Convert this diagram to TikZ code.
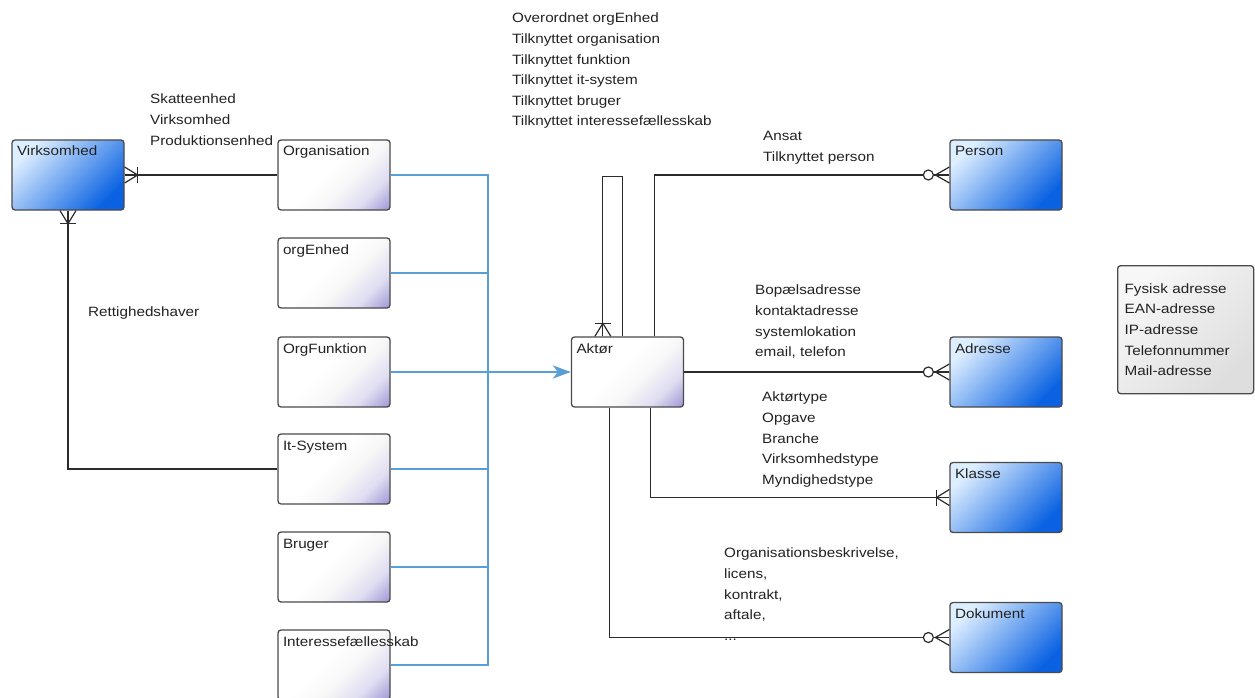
\documentclass[tikz,border=0pt]{standalone}
\usepackage{fontspec}
\setmainfont{Liberation Sans}[FakeStretch=1.13]
\usetikzlibrary{arrows.meta,calc,positioning}

\definecolor{boxline}{HTML}{4A4A4A}
\definecolor{relline}{HTML}{2B2B2B}
\definecolor{busblue}{HTML}{5A9FD4}
\definecolor{blueLight}{HTML}{DDEEFF}
\definecolor{blueDark}{HTML}{0A62E2}
\definecolor{roleCorner}{HTML}{6E64C0}
\definecolor{textgray}{HTML}{222222}

\pgfdeclareverticalshading{rolefade}{100bp}{color(0bp)=(roleCorner); color(14bp)=(roleCorner!70!white);
  color(28bp)=(roleCorner!22!white); color(42bp)=(white!97!black); color(55bp)=(white); color(100bp)=(white)}

\tikzset{
  entity/.style={draw=boxline, line width=1.3pt, rounded corners=3pt,
    inner sep=5pt, text width=102pt, text height=11pt, text depth=49pt,
    align=left, text=textgray},
  kernel/.style={entity, top color=blueLight, bottom color=blueDark, shading angle=45},
  role/.style={entity, shade, shading=rolefade, shading angle=45},
  note/.style={align=left, inner sep=0pt, anchor=north west, text=textgray},
  rel/.style={draw=relline, line width=1.2pt},
  bus/.style={draw=busblue, line width=2.6pt},
  crowbar/.pic={
    \draw[rel] (-13,-8) -- (-13,8);
    \draw[rel] (0,-8) -- (-13,0) -- (0,8);
  },
  crowring/.pic={
    \draw[rel] (0,-8) -- (-14,0) -- (0,8);
    \draw[rel, fill=white] (-21,0) circle (5pt);
  },
}

\begin{document}
\begin{tikzpicture}[x=1pt, y=-1pt, font=\fontsize{13.5pt}{20.6pt}\selectfont]
\useasboundingbox (0,0) rectangle (1255,698);

% entities
\node[kernel] (virk) at (68,175) {Virksomhed};
\node[role] (org) at (334,175) {Organisation};
\node[role, below=26.7pt of org] (orgenhed) {orgEnhed};
\node[role, below=27.7pt of orgenhed] (orgfunk) {OrgFunktion};
\node[role, below=25.7pt of orgfunk] (itsys) {It-System};
\node[role, below=26.7pt of itsys] (bruger) {Bruger};
\node[role, below=26.7pt of bruger] (interesse) {\mbox{Interessefællesskab}};
\node[role] (aktor) at (627.5,372) {Aktør};
\node[kernel] (person) at (1006,175) {Person};
\node[kernel] (adresse) at (1006,372) {Adresse};
\node[kernel] (klasse) at (1006,497.5) {Klasse};
\node[kernel] (dokument) at (1006,637.5) {Dokument};
\node[draw=boxline, line width=1.3pt, rounded corners=3pt,
  top color=white!97!black, bottom color=white!87!black, shading angle=45, anchor=north west,
  minimum width=136pt, minimum height=128pt, inner sep=7pt, text width=122pt,
  align=left, text=textgray] (adrtyper) at (1117,265)
  {Fysisk adresse\\EAN-adresse\\IP-adresse\\Telefonnummer\\Mail-adresse};

% relation texts
\node[note] (skat) at (150,94) {Skatteenhed\\Virksomhed\\Produktionsenhed};
\node[note] (ret) at (88,307) {Rettighedshaver};
\node[note] (overordnet) at (512,13) {Overordnet orgEnhed\\Tilknyttet organisation\\Tilknyttet funktion\\Tilknyttet it-system\\Tilknyttet bruger\\Tilknyttet interessefællesskab};
\node[note] (ansat) at (763,131) {Ansat\\Tilknyttet person};
\node[note] (bopael) at (755,285) {Bopælsadresse\\kontaktadresse\\systemlokation\\email, telefon};
\node[note] (aktortype) at (762,392) {Aktørtype\\Opgave\\Branche\\Virksomhedstype\\Myndighedstype};
\node[note] (beskrivelse) at (724,548) {Organisationsbeskrivelse,\\licens,\\kontrakt,\\aftale,\\...};

% blue bus into Aktør
\coordinate (busN) at (488,175);
\coordinate (busS) at (busN |- interesse.east);
\draw[bus] (org.east) -| (busS) -- (interesse.east);
\foreach \b in {orgenhed,orgfunk,itsys,bruger}
  \draw[bus] (\b.east) -- (\b.east -| busN);
\draw[bus, -{Stealth[length=18pt, width=13pt, inset=5pt]}] (aktor.west -| busN) -- (aktor.west);

% Virksomhed relations
\draw[rel] (virk.east) -- (org.west);
\draw[rel] (virk.south) |- (itsys.west);
\pic[rotate=180] at (virk.east) {crowbar};
\pic[rotate=90] at (virk.south) {crowbar};

% Aktør relations
\coordinate (loopL) at ($(aktor.north west)+(32,0)$);
\coordinate (loopR) at ($(aktor.north west)+(52,0)$);
\coordinate (toPerson) at ($(aktor.north west)+(84,0)$);
\coordinate (toKlasse) at ($(aktor.south west)+(80,0)$);
\coordinate (toDok) at ($(aktor.south west)+(39,0)$);
\draw[rel] (loopL) -- ++(0,-160) -| (loopR);
\pic[rotate=-90] at (loopL) {crowbar};
\draw[rel] (toPerson) |- (person.west);
\pic at (person.west) {crowring};
\draw[rel] (aktor.east) -- (adresse.west);
\pic at (adresse.west) {crowring};
\draw[rel] (toKlasse) |- (klasse.west);
\pic at (klasse.west) {crowbar};
\draw[rel] (toDok) |- (dokument.west);
\pic at (dokument.west) {crowring};
\end{tikzpicture}
\end{document}
